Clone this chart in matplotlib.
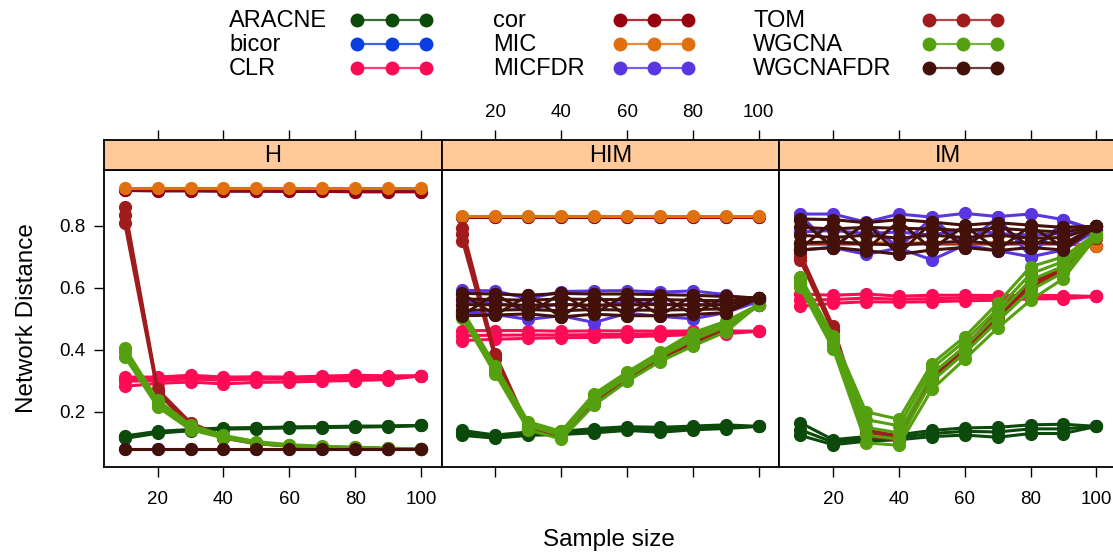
import matplotlib
matplotlib.use("Agg")
import matplotlib.pyplot as plt

plt.rcParams["font.family"] = ["Liberation Sans", "DejaVu Sans"]

W, H = 1113, 556

sample_size = [10, 20, 30, 40, 50, 60, 70, 80, 90, 100]
panels = ["H", "HIM", "IM"]
methods = ["ARACNE", "bicor", "CLR", "cor", "MIC", "MICFDR",
           "TOM", "WGCNA", "WGCNAFDR"]
colors = ["#0b4a0b", "#0a3ee0", "#ff0a55", "#97000f", "#e0700e",
          "#5a36e0", "#a01c1c", "#54a00e", "#43100a"]
y_ticks = [0.2, 0.4, 0.6, 0.8]
x_ticks = [20, 40, 60, 80, 100]

# replicate curves, one list of rows per method
h_vals = {
    "ARACNE": [[0.122, 0.137, 0.143, 0.148, 0.149, 0.151, 0.152, 0.154, 0.154, 0.156],
               [0.118, 0.134, 0.141, 0.146, 0.148, 0.150, 0.151, 0.152, 0.153, 0.156],
               [0.114, 0.131, 0.139, 0.144, 0.146, 0.148, 0.149, 0.151, 0.152, 0.156]],
    "bicor": [[0.914, 0.913, 0.913, 0.912, 0.912, 0.911, 0.911, 0.910, 0.910, 0.910]],
    "CLR": [[0.312, 0.312, 0.318, 0.312, 0.313, 0.312, 0.315, 0.318, 0.316, 0.316],
            [0.305, 0.307, 0.312, 0.307, 0.310, 0.309, 0.311, 0.314, 0.313, 0.316],
            [0.298, 0.302, 0.306, 0.302, 0.306, 0.305, 0.306, 0.310, 0.310, 0.316],
            [0.282, 0.292, 0.296, 0.290, 0.295, 0.296, 0.299, 0.301, 0.304, 0.316]],
    "cor": [[0.914, 0.913, 0.913, 0.912, 0.912, 0.911, 0.911, 0.910, 0.910, 0.910]],
    "MIC": [[0.921, 0.921, 0.921, 0.921, 0.921, 0.921, 0.921, 0.921, 0.921, 0.921]],
    "MICFDR": [[0.080, 0.080, 0.080, 0.080, 0.080, 0.080, 0.080, 0.080, 0.080, 0.080]],
    "TOM": [[0.862, 0.272, 0.165, 0.120, 0.100, 0.091, 0.086, 0.083, 0.081, 0.080],
            [0.835, 0.267, 0.158, 0.117, 0.098, 0.090, 0.085, 0.082, 0.080, 0.080],
            [0.808, 0.262, 0.152, 0.115, 0.097, 0.089, 0.085, 0.082, 0.080, 0.080]],
    "WGCNA": [[0.406, 0.238, 0.157, 0.124, 0.104, 0.094, 0.089, 0.086, 0.083, 0.080],
              [0.392, 0.227, 0.150, 0.120, 0.101, 0.092, 0.087, 0.085, 0.082, 0.080],
              [0.378, 0.216, 0.142, 0.116, 0.098, 0.090, 0.086, 0.084, 0.082, 0.080]],
    "WGCNAFDR": [[0.080, 0.080, 0.080, 0.080, 0.080, 0.080, 0.080, 0.080, 0.080, 0.080]],
}

him_vals = {
    "ARACNE": [[0.140, 0.125, 0.135, 0.137, 0.146, 0.152, 0.150, 0.154, 0.158, 0.153],
               [0.132, 0.120, 0.130, 0.132, 0.139, 0.146, 0.142, 0.148, 0.152, 0.153],
               [0.124, 0.115, 0.124, 0.127, 0.132, 0.140, 0.134, 0.142, 0.146, 0.153]],
    "bicor": [[0.827, 0.827, 0.827, 0.827, 0.827, 0.827, 0.827, 0.827, 0.827, 0.827]],
    "CLR": [[0.462, 0.462, 0.462, 0.460, 0.461, 0.461, 0.460, 0.461, 0.461, 0.460],
            [0.446, 0.447, 0.448, 0.448, 0.449, 0.450, 0.452, 0.455, 0.457, 0.460],
            [0.430, 0.434, 0.437, 0.439, 0.440, 0.442, 0.445, 0.449, 0.452, 0.460]],
    "cor": [[0.827, 0.827, 0.827, 0.827, 0.827, 0.827, 0.827, 0.827, 0.827, 0.827]],
    "MIC": [[0.832, 0.832, 0.832, 0.832, 0.832, 0.832, 0.832, 0.832, 0.832, 0.832]],
    "MICFDR": [[0.592, 0.590, 0.565, 0.588, 0.590, 0.591, 0.586, 0.590, 0.578, 0.556],
               [0.556, 0.552, 0.532, 0.548, 0.540, 0.555, 0.548, 0.545, 0.550, 0.556],
               [0.522, 0.514, 0.498, 0.510, 0.488, 0.518, 0.508, 0.500, 0.520, 0.556]],
    "TOM": [[0.792, 0.386, 0.152, 0.126, 0.232, 0.312, 0.372, 0.428, 0.470, 0.545],
            [0.772, 0.378, 0.146, 0.122, 0.229, 0.308, 0.369, 0.424, 0.468, 0.545],
            [0.752, 0.370, 0.140, 0.118, 0.226, 0.305, 0.366, 0.420, 0.465, 0.545]],
    "WGCNA": [[0.526, 0.348, 0.168, 0.137, 0.258, 0.328, 0.392, 0.455, 0.492, 0.546],
              [0.520, 0.341, 0.161, 0.130, 0.249, 0.320, 0.385, 0.444, 0.484, 0.546],
              [0.514, 0.335, 0.155, 0.124, 0.240, 0.312, 0.378, 0.432, 0.475, 0.546],
              [0.502, 0.322, 0.142, 0.112, 0.222, 0.298, 0.362, 0.412, 0.458, 0.546]],
    "WGCNAFDR": [[0.582, 0.580, 0.576, 0.582, 0.580, 0.580, 0.578, 0.576, 0.572, 0.567],
                 [0.564, 0.562, 0.560, 0.564, 0.562, 0.562, 0.562, 0.560, 0.558, 0.567],
                 [0.546, 0.545, 0.544, 0.546, 0.544, 0.545, 0.546, 0.544, 0.545, 0.567],
                 [0.528, 0.528, 0.530, 0.526, 0.530, 0.528, 0.528, 0.530, 0.532, 0.567],
                 [0.510, 0.512, 0.516, 0.506, 0.515, 0.510, 0.510, 0.514, 0.520, 0.567],
                 [0.580, 0.512, 0.576, 0.506, 0.580, 0.510, 0.578, 0.514, 0.572, 0.567],
                 [0.512, 0.580, 0.516, 0.582, 0.515, 0.580, 0.510, 0.576, 0.520, 0.567]],
}

im_vals = {
    "ARACNE": [[0.165, 0.110, 0.120, 0.126, 0.140, 0.148, 0.150, 0.158, 0.160, 0.153],
               [0.142, 0.102, 0.113, 0.118, 0.130, 0.137, 0.135, 0.145, 0.145, 0.153],
               [0.124, 0.094, 0.105, 0.110, 0.120, 0.125, 0.118, 0.130, 0.130, 0.153]],
    "bicor": [[0.742, 0.742, 0.742, 0.742, 0.742, 0.742, 0.742, 0.742, 0.742, 0.735]],
    "CLR": [[0.580, 0.576, 0.580, 0.573, 0.576, 0.576, 0.575, 0.576, 0.575, 0.572],
            [0.560, 0.562, 0.567, 0.563, 0.565, 0.567, 0.567, 0.570, 0.570, 0.572],
            [0.540, 0.550, 0.555, 0.554, 0.555, 0.558, 0.560, 0.564, 0.565, 0.572]],
    "cor": [[0.742, 0.742, 0.742, 0.742, 0.742, 0.742, 0.742, 0.742, 0.742, 0.735]],
    "MIC": [[0.745, 0.745, 0.745, 0.745, 0.745, 0.745, 0.745, 0.745, 0.745, 0.735]],
    "MICFDR": [[0.838, 0.838, 0.812, 0.838, 0.828, 0.840, 0.830, 0.838, 0.820, 0.785],
               [0.780, 0.785, 0.775, 0.780, 0.770, 0.790, 0.775, 0.770, 0.775, 0.785],
               [0.722, 0.730, 0.708, 0.728, 0.690, 0.738, 0.720, 0.700, 0.722, 0.785],
               [0.835, 0.728, 0.810, 0.730, 0.825, 0.738, 0.828, 0.700, 0.818, 0.785]],
    "TOM": [[0.712, 0.476, 0.142, 0.122, 0.320, 0.410, 0.520, 0.620, 0.660, 0.760],
            [0.700, 0.468, 0.132, 0.115, 0.312, 0.404, 0.512, 0.612, 0.655, 0.760],
            [0.690, 0.460, 0.122, 0.108, 0.305, 0.398, 0.505, 0.605, 0.650, 0.760]],
    "WGCNA": [[0.636, 0.446, 0.200, 0.176, 0.355, 0.442, 0.550, 0.668, 0.700, 0.775],
              [0.628, 0.436, 0.175, 0.155, 0.340, 0.428, 0.532, 0.645, 0.685, 0.772],
              [0.620, 0.426, 0.150, 0.132, 0.322, 0.410, 0.515, 0.625, 0.670, 0.770],
              [0.611, 0.415, 0.125, 0.112, 0.298, 0.390, 0.492, 0.592, 0.650, 0.767],
              [0.602, 0.404, 0.100, 0.092, 0.272, 0.370, 0.470, 0.560, 0.630, 0.765]],
    "WGCNAFDR": [[0.822, 0.820, 0.810, 0.820, 0.812, 0.802, 0.810, 0.802, 0.795, 0.798],
                 [0.795, 0.790, 0.795, 0.792, 0.790, 0.785, 0.792, 0.785, 0.780, 0.798],
                 [0.770, 0.762, 0.770, 0.760, 0.770, 0.762, 0.770, 0.760, 0.762, 0.798],
                 [0.745, 0.748, 0.742, 0.738, 0.745, 0.750, 0.742, 0.748, 0.742, 0.798],
                 [0.722, 0.730, 0.720, 0.708, 0.722, 0.730, 0.720, 0.730, 0.722, 0.798],
                 [0.820, 0.730, 0.810, 0.708, 0.812, 0.730, 0.810, 0.730, 0.795, 0.798],
                 [0.725, 0.815, 0.722, 0.815, 0.725, 0.800, 0.722, 0.800, 0.730, 0.798]],
}

panel_vals = [h_vals, him_vals, im_vals]

STRIP = "#ffc999"
XLIM = (3.7, 106.3)
YLIM = (0.022, 0.98)


def px(x0, y0, w, h):
    return [x0 / W, 1 - (y0 + h) / H, w / W, h / H]


fig = plt.figure(figsize=(W / 100, H / 100), dpi=100)
fig.patch.set_facecolor("white")

pw = 337.7
for i, (name, vals) in enumerate(zip(panels, panel_vals)):
    x0 = 104 + i * pw
    ax = fig.add_axes(px(x0, 170, pw, 297))
    for m, c in zip(methods, colors):
        for row in vals[m]:
            ax.plot(sample_size, row, color=c, lw=2.2, marker="o",
                    ms=9.5, mew=0, solid_capstyle="round")
    ax.set_xlim(*XLIM)
    ax.set_ylim(*YLIM)
    for s in ax.spines.values():
        s.set_linewidth(1.3)
    ax.set_xticks(x_ticks)
    ax.tick_params(axis="x", direction="out", length=7.5, width=1,
                   labelsize=13.5, pad=10, labelbottom=(i != 1))
    if i == 0:
        ax.set_yticks(y_ticks)
        ax.set_yticklabels([f"{v:.1f}" for v in y_ticks])
        ax.tick_params(axis="y", direction="out", length=7.5, width=1,
                       labelsize=13.5, pad=6)
    else:
        ax.set_yticks([])

    st = fig.add_axes(px(x0, 140, pw, 30))
    st.set_facecolor(STRIP)
    st.set_xlim(*XLIM)
    st.set_yticks([])
    st.set_xticks(x_ticks)
    st.xaxis.tick_top()
    st.tick_params(axis="x", direction="out", length=7.5, width=1,
                   labelsize=13.5, pad=6, labeltop=(i == 1))
    for s in st.spines.values():
        s.set_linewidth(1.3)
    st.text(0.5, 0.45, name, transform=st.transAxes, ha="center",
            va="center", fontsize=17)

fig.text(27 / W, 1 - 318 / H, "Network Distance", rotation=90,
         ha="center", va="center", fontsize=17.5)
fig.text(609 / W, 1 - 540 / H, "Sample size", ha="center",
         va="center", fontsize=17.5)

# legend, three columns of three
lg = fig.add_axes([0, 0, 1, 1], zorder=5)
lg.set_xlim(0, W)
lg.set_ylim(H, 0)
lg.axis("off")
text_x = [229, 493, 753]
mark_x = [(357, 391.5, 426), (620, 654, 688), (929, 963, 997)]
rows_y = [20, 44, 68]
for k, (m, c) in enumerate(zip(methods, colors)):
    col, row = divmod(k, 3)
    lg.text(text_x[col], rows_y[row] + 1, m, ha="left", va="center",
            fontsize=17)
    lg.plot(mark_x[col], [rows_y[row]] * 3, color=c, lw=1.6, alpha=0.8)
    lg.plot(mark_x[col], [rows_y[row]] * 3, color=c, lw=0, marker="o",
            ms=10, mew=0)

fig.savefig("out.png", dpi=100)
